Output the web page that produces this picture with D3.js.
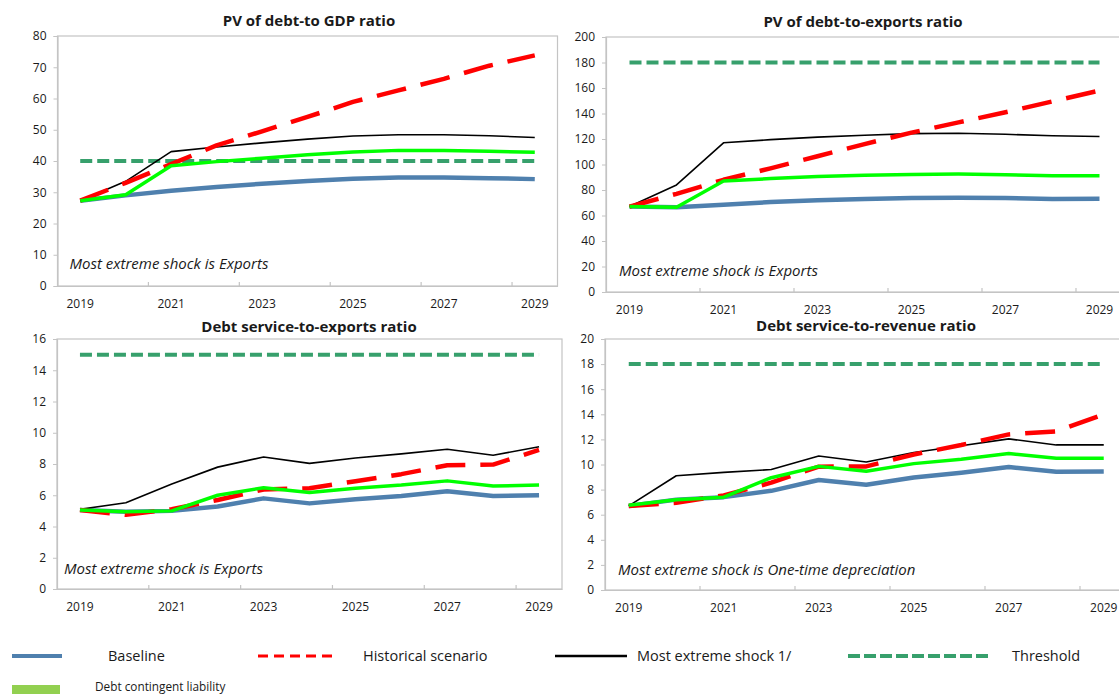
<!DOCTYPE html>
<html>
<head>
<meta charset="utf-8">
<script src="https://cdn.jsdelivr.net/npm/d3@7"></script>
<style>
  html, body { margin: 0; padding: 0; background: #fff; }
  svg { display: block; font-family: "Open Sans", "Noto Sans", sans-serif; }
</style>
</head>
<body>
<svg id="chart" width="1119" height="694"></svg>
<script>
// Projection years shared by all four panels
const years = ["2019","2020","2021","2022","2023","2024","2025","2026","2027","2028","2029"];
const yearLabels = ["2019","2021","2023","2025","2027","2029"];

// PV of debt-to-GDP ratio
const gdpBaseline   = [27.3, 29.0, 30.5, 31.7, 32.7, 33.6, 34.3, 34.7, 34.7, 34.5, 34.2];
const gdpHistorical = [27.3, 33.0, 39.0, 45.0, 49.5, 54.1, 58.9, 62.6, 66.3, 70.5, 73.8];
const gdpExtreme    = [27.3, 33.5, 43.0, 44.5, 45.8, 47.0, 48.0, 48.4, 48.4, 48.1, 47.5];
const gdpContingent = [27.3, 29.2, 38.5, 39.8, 40.9, 42.0, 42.9, 43.4, 43.4, 43.1, 42.8];
const gdpThreshold  = 40;

// PV of debt-to-exports ratio
const expBaseline   = [67.0, 66.5, 68.5, 70.5, 71.9, 72.9, 73.8, 74.0, 73.8, 73.0, 73.2];
const expHistorical = [67.0, 77.0, 88.0, 97.0, 106.5, 116.0, 125.0, 133.0, 141.0, 149.5, 158.0];
const expExtreme    = [67.0, 84.0, 117.0, 119.5, 121.5, 123.0, 124.2, 124.5, 123.7, 122.5, 122.0];
const expContingent = [67.0, 66.5, 87.0, 89.0, 90.5, 91.5, 92.2, 92.5, 92.0, 91.2, 91.2];
const expThreshold  = 180;

// Debt service-to-exports ratio
const dsxBaseline   = [5.05, 4.95, 5.00, 5.28, 5.80, 5.48, 5.75, 5.95, 6.25, 5.95, 6.00];
const dsxHistorical = [5.05, 4.75, 5.10, 5.70, 6.37, 6.45, 6.90, 7.35, 7.92, 7.96, 8.90];
const dsxExtreme    = [5.10, 5.52, 6.72, 7.80, 8.45, 8.04, 8.38, 8.65, 8.94, 8.56, 9.10];
const dsxContingent = [5.05, 4.95, 5.00, 6.00, 6.48, 6.17, 6.45, 6.65, 6.92, 6.59, 6.65];
const dsxThreshold  = 15;

// Debt service-to-revenue ratio
const dsrBaseline   = [6.70, 7.20, 7.40, 7.90, 8.77, 8.39, 8.97, 9.35, 9.80, 9.42, 9.45];
const dsrHistorical = [6.70, 6.95, 7.54, 8.55, 9.83, 9.85, 10.80, 11.55, 12.40, 12.64, 14.00];
const dsrExtreme    = [6.70, 9.10, 9.37, 9.60, 10.68, 10.20, 10.96, 11.50, 12.04, 11.56, 11.56];
const dsrContingent = [6.75, 7.20, 7.40, 8.95, 9.85, 9.47, 10.07, 10.42, 10.87, 10.49, 10.50];
const dsrThreshold  = 18;

const panels = [
  { title: "PV of debt-to GDP ratio", note: "Most extreme shock is Exports",
    baseline: gdpBaseline, historical: gdpHistorical, extreme: gdpExtreme, contingent: gdpContingent,
    threshold: gdpThreshold, yMax: 80, yStep: 10,
    box: { left: 57.5, right: 557.5, top: 36, bottom: 286 }, titleX: 309, titleY: 20, noteDx: 12, noteDy: 23 },
  { title: "PV of debt-to-exports ratio", note: "Most extreme shock is Exports",
    baseline: expBaseline, historical: expHistorical, extreme: expExtreme, contingent: expContingent,
    threshold: expThreshold, yMax: 200, yStep: 20,
    box: { left: 606, right: 1123, top: 37, bottom: 292 }, titleX: 863, titleY: 21, noteDx: 13, noteDy: 22 },
  { title: "Debt service-to-exports ratio", note: "Most extreme shock is Exports",
    baseline: dsxBaseline, historical: dsxHistorical, extreme: dsxExtreme, contingent: dsxContingent,
    threshold: dsxThreshold, yMax: 16, yStep: 2,
    box: { left: 57, right: 562, top: 339, bottom: 589 }, titleX: 309, titleY: 326, noteDx: 7, noteDy: 21 },
  { title: "Debt service-to-revenue ratio", note: "Most extreme shock is One-time depreciation",
    baseline: dsrBaseline, historical: dsrHistorical, extreme: dsrExtreme, contingent: dsrContingent,
    threshold: dsrThreshold, yMax: 20, yStep: 2,
    box: { left: 605, right: 1127.5, top: 339, bottom: 590 }, titleX: 866, titleY: 325, noteDx: 13, noteDy: 21 }
];

const colors = {
  baseline: "#4f80ae",
  historical: "#ff0000",
  extreme: "#000000",
  threshold: "#37a06c",
  contingent: "#00ff00",
  contingentKey: "#92d050",
  frame: "#c4c4c4",
  text: "#1a1a1a"
};

const svg = d3.select("#chart");

panels.forEach(p => {
  const b = p.box;
  const g = svg.append("g");

  const x = d3.scaleBand().domain(years).range([b.left, b.right]).paddingInner(0).paddingOuter(0);
  const y = d3.scaleLinear().domain([0, p.yMax]).range([b.bottom, b.top]);
  const cx = d => x(d) + x.bandwidth() / 2;

  // plot frame
  g.append("rect")
    .attr("x", b.left).attr("y", b.top)
    .attr("width", b.right - b.left).attr("height", b.bottom - b.top)
    .attr("fill", "none").attr("stroke", colors.frame).attr("stroke-width", 1.2);

  // y axis
  const yTicks = d3.range(0, p.yMax + p.yStep / 2, p.yStep);
  const yAxis = d3.axisLeft(y).tickValues(yTicks).tickSize(4).tickPadding(7).tickFormat(d3.format("d"));
  const ya = g.append("g").attr("transform", `translate(${b.left},0)`).call(yAxis);
  ya.select(".domain").attr("stroke", colors.frame).attr("stroke-width", 1.2);
  ya.selectAll(".tick line").attr("stroke", colors.frame);
  ya.selectAll(".tick text").attr("font-size", 12).attr("fill", colors.text)
    .attr("font-family", "'Open Sans', 'Noto Sans', sans-serif");

  // x axis: labels every second year, ticks on category boundaries
  const xAxis = d3.axisBottom(x).tickValues(yearLabels).tickSize(0).tickPadding(13);
  const xa = g.append("g").attr("transform", `translate(0,${b.bottom})`).call(xAxis);
  xa.select(".domain").attr("stroke", colors.frame).attr("stroke-width", 1.2);
  xa.selectAll(".tick text").attr("font-size", 12).attr("fill", colors.text)
    .attr("font-family", "'Open Sans', 'Noto Sans', sans-serif");
  g.selectAll(".xbound").data(yearLabels.slice(1)).enter().append("line")
    .attr("x1", d => x(d)).attr("x2", d => x(d))
    .attr("y1", b.bottom).attr("y2", b.bottom - 4)
    .attr("stroke", colors.frame).attr("stroke-width", 1.2);

  const line = d3.line().x((d, i) => cx(years[i])).y(d => y(d)).curve(d3.curveLinear);

  // threshold
  g.append("line")
    .attr("x1", cx(years[0])).attr("x2", cx(years[years.length - 1]))
    .attr("y1", y(p.threshold)).attr("y2", y(p.threshold))
    .attr("stroke", colors.threshold).attr("stroke-width", 4)
    .attr("stroke-dasharray", "12 5");

  const series = [
    { data: p.baseline, color: colors.baseline, width: 4.5, dash: null },
    { data: p.extreme, color: colors.extreme, width: 1.6, dash: null },
    { data: p.historical, color: colors.historical, width: 4.5, dash: "30 15" },
    { data: p.contingent, color: colors.contingent, width: 3.5, dash: null }
  ];
  series.forEach(s => {
    g.append("path").datum(s.data)
      .attr("d", line)
      .attr("fill", "none")
      .attr("stroke", s.color)
      .attr("stroke-width", s.width)
      .attr("stroke-linejoin", "round")
      .attr("stroke-dasharray", s.dash);
  });

  // title
  g.append("text").attr("x", p.titleX).attr("y", p.titleY)
    .attr("text-anchor", "middle").attr("dominant-baseline", "central")
    .attr("font-size", 15).attr("font-weight", "bold").attr("fill", colors.text)
    .text(p.title);

  // note
  g.append("text").attr("x", b.left + p.noteDx).attr("y", b.bottom - p.noteDy)
    .attr("dominant-baseline", "central")
    .attr("font-size", 15).attr("font-style", "italic").attr("fill", colors.text)
    .text(p.note);
});

// legend
const legend = svg.append("g");
const legendItems = [
  { label: "Baseline", x1: 12, x2: 62, tx: 108, color: colors.baseline, width: 4, dash: null },
  { label: "Historical scenario", x1: 258, x2: 336, tx: 363, color: colors.historical, width: 3, dash: "10 6" },
  { label: "Most extreme shock 1/", x1: 555, x2: 627, tx: 637, color: colors.extreme, width: 2.5, dash: null },
  { label: "Threshold", x1: 848, x2: 990, tx: 1012, color: colors.threshold, width: 4, dash: "12 4" }
];
legendItems.forEach(d => {
  legend.append("line").attr("x1", d.x1).attr("x2", d.x2).attr("y1", 656).attr("y2", 656)
    .attr("stroke", d.color).attr("stroke-width", d.width).attr("stroke-dasharray", d.dash);
  legend.append("text").attr("x", d.tx).attr("y", 655)
    .attr("dominant-baseline", "central").attr("font-size", 14.5).attr("fill", colors.text)
    .text(d.label);
});
legend.append("rect").attr("x", 12).attr("y", 685).attr("width", 48).attr("height", 12)
  .attr("fill", colors.contingentKey);
legend.append("text").attr("x", 95).attr("y", 686)
  .attr("dominant-baseline", "central").attr("font-size", 11.8).attr("fill", colors.text)
  .text("Debt contingent liability");
</script>
</body>
</html>
